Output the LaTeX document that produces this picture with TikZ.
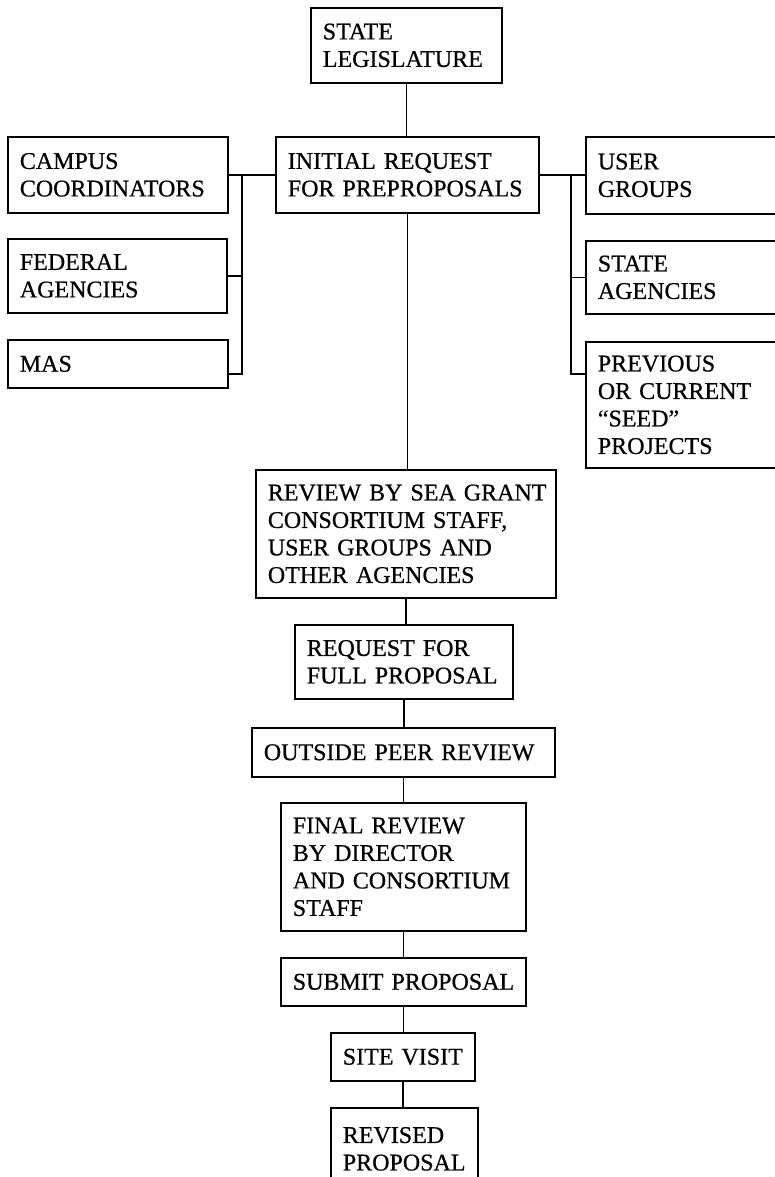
\documentclass[tikz,border=0pt]{standalone}
\usepackage{fontspec}
\setmainfont{Liberation Serif}
\newfontfamily\heavy{Liberation Serif}[FakeBold=0.6]
\newcommand{\boxfont}{\heavy\fontsize{24}{27.5}\selectfont\hyphenpenalty=10000\relax\uchyph=0\relax}
\begin{document}
\begin{tikzpicture}[x=1pt,y=-1pt,
  box/.style={draw, line width=1.7pt, inner xsep=12pt, inner ysep=0pt, anchor=north west,
    align=left, font=\boxfont},
  link/.style={line width=1.7pt}]
\clip (0,0) rectangle (775,1177);
% main column
\node[box, minimum width=191pt, minimum height=75pt, text width=167pt] (state) at (310,7) {STATE\\LEGISLATURE};
\node[box, minimum width=263pt, minimum height=76pt, text width=239pt] (initial) at (275,136) {INITIAL~REQUEST\\FOR~PREPROPOSALS};
\node[box, minimum width=300pt, minimum height=128pt, text width=276pt] (review) at (255,469) {REVIEW~BY~SEA~GRANT\\CONSORTIUM~STAFF,\\USER~GROUPS~AND\\OTHER~AGENCIES};
\node[box, minimum width=218pt, minimum height=74pt, text width=194pt] (request) at (294,624) {REQUEST~FOR\\FULL~PROPOSAL};
\node[box, minimum width=303pt, minimum height=49pt, text width=279pt] (outside) at (251,727) {OUTSIDE~PEER~REVIEW};
\node[box, minimum width=245pt, minimum height=128pt, text width=221pt] (final) at (280,802) {FINAL~REVIEW\\BY~DIRECTOR\\AND~CONSORTIUM\\STAFF};
\node[box, minimum width=245pt, minimum height=48pt, text width=221pt] (submit) at (280,957) {SUBMIT~PROPOSAL};
\node[box, minimum width=144pt, minimum height=48pt, text width=120pt] (site) at (330,1032) {SITE~VISIT};
\node[box, minimum width=147pt, minimum height=82pt, text width=123pt] (revised) at (330,1107) {REVISED\\PROPOSAL};
% left group
\node[box, minimum width=220pt, minimum height=76pt, text width=196pt] (campus) at (7,136) {CAMPUS\\COORDINATORS};
\node[box, minimum width=219pt, minimum height=74pt, text width=195pt] (federal) at (7,238) {FEDERAL\\AGENCIES};
\node[box, minimum width=220pt, minimum height=48pt, text width=196pt] (mas) at (7,339) {MAS};
% right group
\node[box, minimum width=200pt, minimum height=77pt, text width=176pt] (user) at (585,136) {USER\\GROUPS};
\node[box, minimum width=200pt, minimum height=73pt, text width=176pt] (stateag) at (585,240) {STATE\\AGENCIES};
\node[box, minimum width=200pt, minimum height=126pt, text width=176pt] (prev) at (585,341) {PREVIOUS\\OR~CURRENT\\“SEED”\\PROJECTS};
% spines
\coordinate (lt) at (242,174);
\coordinate (lb) at (242,374);
\coordinate (rt) at (571,174);
\coordinate (rb) at (571,374);
% connectors
\draw[link] (state.south) -- (state.south |- initial.north);
\draw[link] (campus.east) -- (initial.west);
\draw[link] (lt) -- (lb) -- (mas.east |- lb);
\draw[link] (federal.east) -- (federal.east -| lt);
\draw[link] (initial.east) -- (user.west |- initial.east);
\draw[link] (rt) -- (rb) -- (prev.west |- rb);
\draw[link] (stateag.west) -- (stateag.west -| rt);
\draw[link] (initial.south) -- (initial.south |- review.north);
\draw[link] (review.south) -- (review.south |- request.north);
\draw[link] (request.south) -- (request.south |- outside.north);
\draw[link] (outside.south) -- (outside.south |- final.north);
\draw[link] (final.south) -- (final.south |- submit.north);
\draw[link] (submit.south) -- (submit.south |- site.north);
\draw[link] (site.south) -- (site.south |- revised.north);
\end{tikzpicture}
\end{document}
